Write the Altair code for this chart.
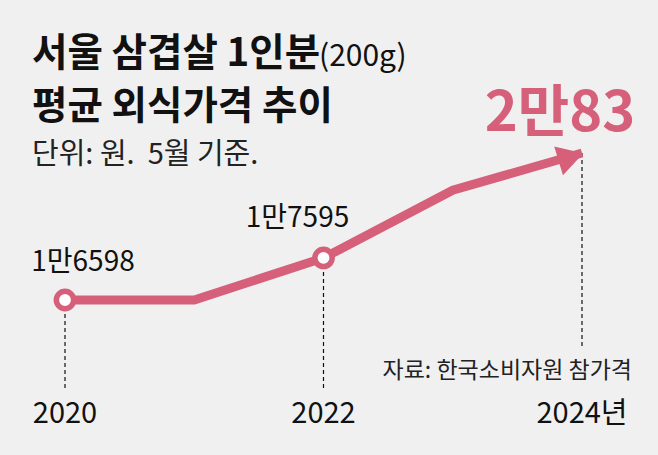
import altair as alt
import pandas as pd

years = [2020, 2021, 2022, 2023, 2024]
prices = [16598, 16600, 17595, 19200, 20083]

marked_years = [2020, 2022]
marked_labels = ["1만6598", "1만7595"]
final_label = "2만83"
tick_years = [2020, 2022, 2024]
tick_labels = ["2020", "2022", "2024년"]

title_1 = "서울 삼겹살 1인분"
title_1b = "(200g)"
title_2 = "평균 외식가격 추이"
subtitle = "단위: 원.\u00a0 5월 기준."
source = "자료: 한국소비자원 참가격"

PINK = "#d6607a"
BG = "#f0f0f0"
FONT = "Noto Sans CJK KR"

df = pd.DataFrame({"year": years, "price": prices})
pts = df[df["year"].isin(marked_years)].copy()
pts["label"] = marked_labels
last = df[df["year"] == years[-1]].copy()
last["label"] = final_label
ticks = df[df["year"].isin(tick_years)].copy()
ticks["tick"] = tick_labels

xs = alt.Scale(domain=[2020, 2024], range=[65, 582])
ys = alt.Scale(domain=[16598, 20083], range=[300, 153])
X = alt.X("year:Q", scale=xs, axis=None)
Y = alt.Y("price:Q", scale=ys, axis=None)

base = alt.Chart(df)

rules = alt.Chart(ticks[ticks["year"] != 2024]).mark_rule(
    color="#111", strokeWidth=1.2, strokeDash=[4, 3]
).encode(x=X, y=Y, y2=alt.value(390))
rule_last = alt.Chart(last).mark_rule(
    color="#111", strokeWidth=1.2, strokeDash=[4, 3]
).encode(x=X, y=Y, y2=alt.value(348))

line = base.mark_line(color=PINK, strokeWidth=9, strokeJoin="miter", strokeCap="butt").encode(x=X, y=Y)

arrow = alt.Chart(last).mark_point(
    shape="triangle-right", filled=True, color=PINK, opacity=1,
    size=900, angle=343, xOffset=-11, yOffset=4
).encode(x=X, y=Y)

circles = alt.Chart(pts).mark_point(
    shape="circle", filled=True, fill="white", stroke=PINK, strokeWidth=5.5,
    size=300, opacity=1
).encode(x=X, y=Y)

lab1 = alt.Chart(pts[pts["year"] == 2020]).mark_text(
    font=FONT, fontSize=28, color="#111", align="center", baseline="alphabetic", dx=18, dy=-29
).encode(x=X, y=Y, text="label:N")
lab2 = alt.Chart(pts[pts["year"] == 2022]).mark_text(
    font=FONT, fontSize=28, color="#111", align="center", baseline="alphabetic", dx=-26, dy=-31
).encode(x=X, y=Y, text="label:N")
lab3 = alt.Chart(last).mark_text(
    font=FONT, fontSize=56, fontWeight="bold", color=PINK, align="center", baseline="alphabetic", dx=-22, dy=-22
).encode(x=X, y=Y, text="label:N")

tick_txt = alt.Chart(ticks).mark_text(
    font=FONT, fontSize=29, color="#111", align="center", baseline="alphabetic"
).encode(x=X, y=alt.value(423), text="tick:N")


def fixed_text(txt, x, y, size, weight="normal", color="#111", align="left"):
    return alt.Chart(pd.DataFrame({"t": [txt]})).mark_text(
        font=FONT, fontSize=size, fontWeight=weight, color=color, align=align, baseline="alphabetic"
    ).encode(x=alt.value(x), y=alt.value(y), text="t:N")


t1 = fixed_text(title_1, 32, 66, 38.5, "bold")
t1b = fixed_text(title_1b, 319, 66, 30)
t2 = fixed_text(title_2, 32, 119, 38.5, "bold")
st = fixed_text(subtitle, 32, 164, 29, color="#222")
src = fixed_text(source, 632, 378, 23, color="#222", align="right")

chart = alt.layer(
    rules, rule_last, line, arrow, circles, lab1, lab2, lab3, tick_txt, t1, t1b, t2, st, src
).properties(
    width=658, height=455, padding=0, autosize=alt.AutoSizeParams(type="none"),
    background=BG
).configure_view(stroke=None)

chart.save("out.html", embed_options={"renderer": "svg", "actions": False})
